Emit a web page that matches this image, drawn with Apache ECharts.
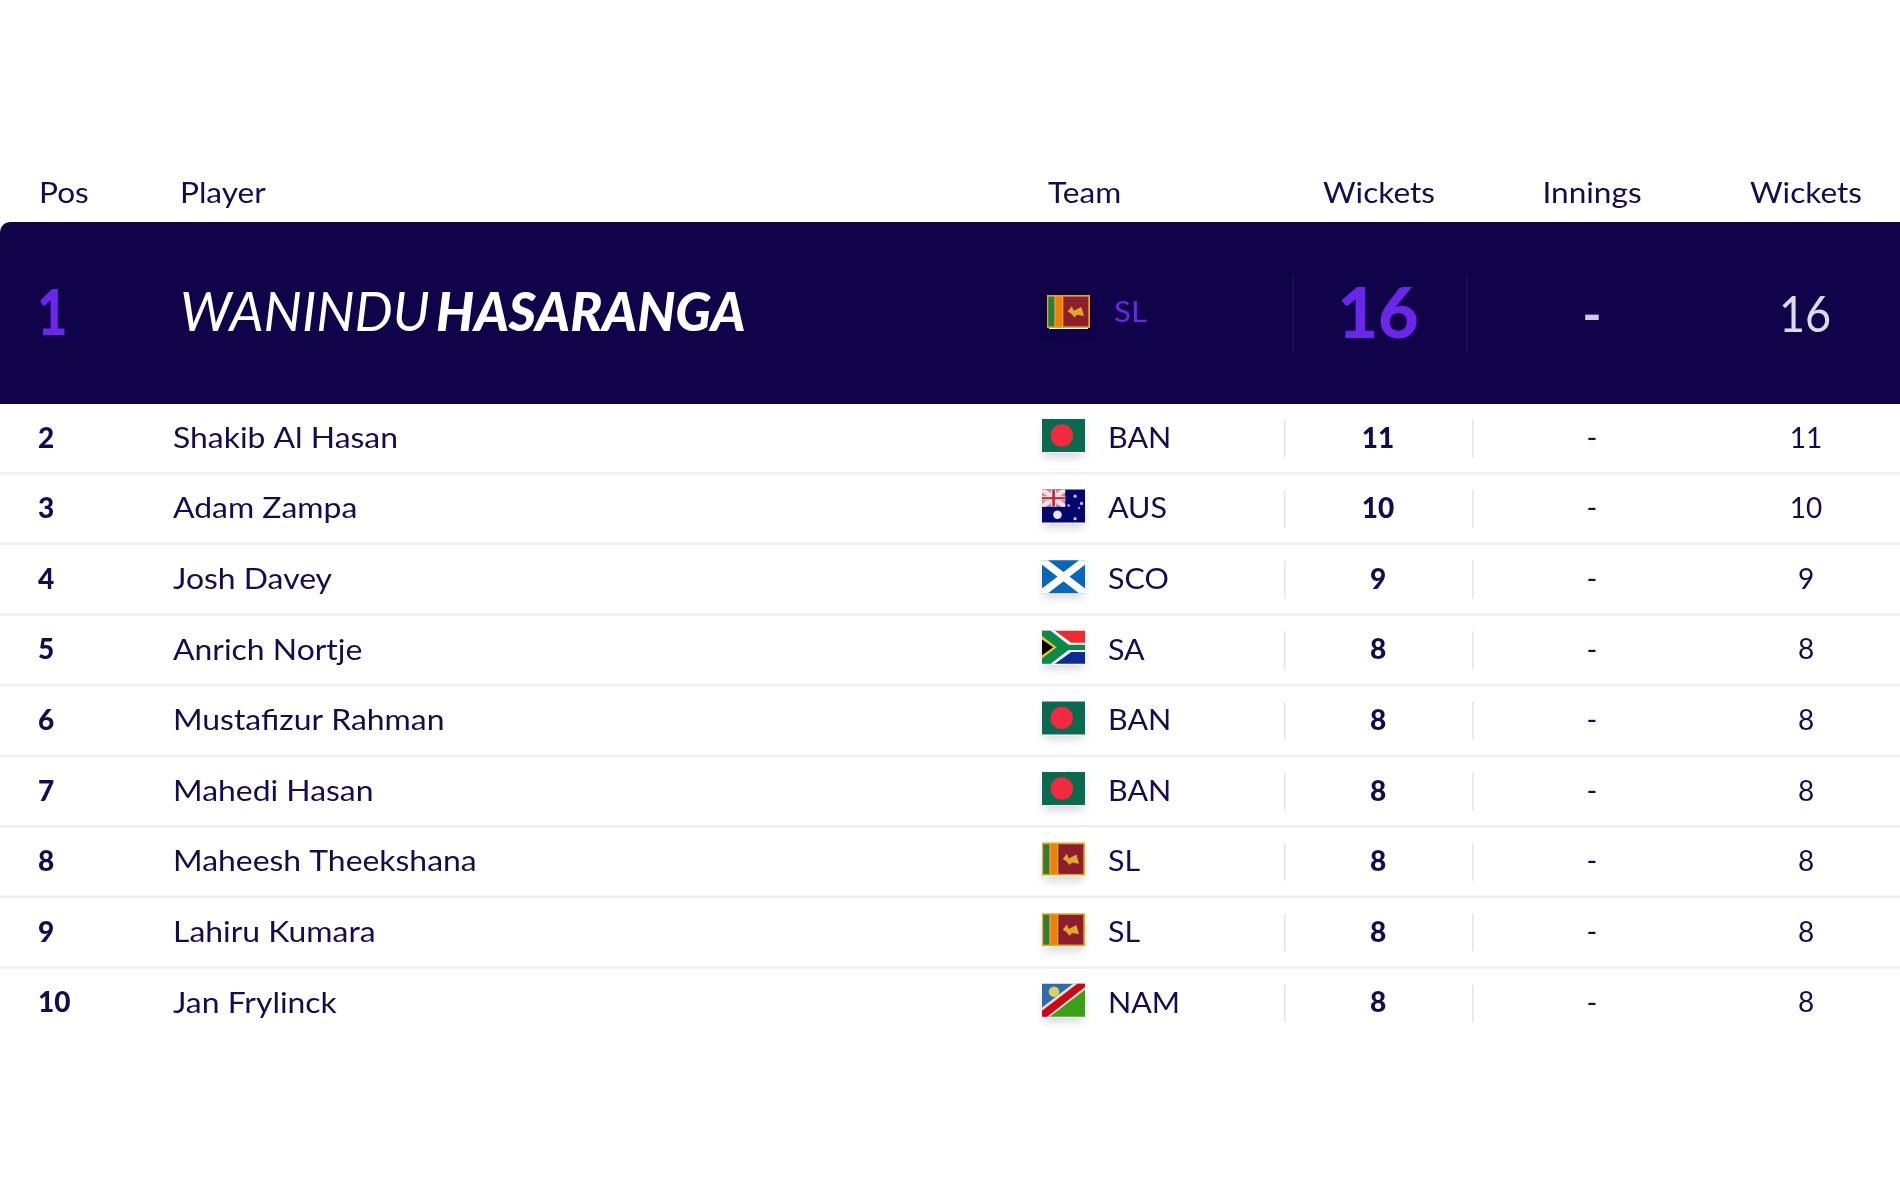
<!DOCTYPE html>
<html><head><meta charset="utf-8">
<script src="https://cdn.jsdelivr.net/npm/echarts@6/dist/echarts.min.js"></script>
<style>html,body{margin:0;padding:0;background:#fff}#c{width:1900px;height:1200px}</style>
</head><body><div id="c"></div>
<script>
const headers = ['Pos','Player','Team','Wickets','Innings','Wickets'];
const positions = [1,2,3,4,5,6,7,8,9,10];
const players = ['WANINDU HASARANGA','Shakib Al Hasan','Adam Zampa','Josh Davey','Anrich Nortje','Mustafizur Rahman','Mahedi Hasan','Maheesh Theekshana','Lahiru Kumara','Jan Frylinck'];
const teams = ['SL','BAN','AUS','SCO','SA','BAN','BAN','SL','SL','NAM'];
const wickets = [16,11,10,9,8,8,8,8,8,8];
const innings = ['-','-','-','-','-','-','-','-','-','-'];
const totals = [16,11,10,9,8,8,8,8,8,8];

const FONT = 'Lato';
const INK = '#170a4d', NAVY = '#11034a', PURPLE = '#6a27ea';
const headerY = 194, bannerTop = 222, bannerBottom = 404, leaderY = 314;
const firstRowY = 438.5, rowStep = 70.6;
const headerX = [39,180,1048,1379,1592,1806];
const headerAlign = ['left','left','left','center','center','center'];
const bodySize = 29;

function poly(x,y,w,h,pts,fill){return {type:'polygon',silent:true,shape:{points:pts.map(p=>[x+p[0]*w/100,y+p[1]*h/100])},style:{fill}};}
function box(x,y,w,h,a,b,c,d,fill){return {type:'rect',silent:true,shape:{x:x+a*w/100,y:y+b*h/100,width:(c-a)*w/100,height:(d-b)*h/100},style:{fill}};}
function dot(x,y,w,h,a,b,r,fill){return {type:'circle',silent:true,shape:{cx:x+a*w/100,cy:y+b*h/100,r:r},style:{fill}};}
function flag(team,x,y,w,h){
  const P=(pts,f)=>poly(x,y,w,h,pts,f), B=(a,b,c,d,f)=>box(x,y,w,h,a,b,c,d,f), D=(a,b,r,f)=>dot(x,y,w,h,a,b,r,f);
  const out=[{type:'rect',silent:true,shape:{x:x+2,y:y+3,width:w-4,height:h-2},style:{fill:'#fff',shadowBlur:9,shadowOffsetY:4,shadowColor:'rgba(20,10,60,0.18)'}}];
  if(team==='BAN'){out.push(B(0,0,100,100,'#0a6a50'),D(46,50,h*0.34,'#f12a3f'));}
  if(team==='AUS'){
    out.push(B(0,0,100,100,'#05056e'),B(0,0,54,52,'#c98b9c'));
    out.push(P([[0,0],[9,0],[54,44],[54,52],[45,52],[0,8]],'#efe3e8'),P([[54,0],[45,0],[0,44],[0,52],[9,52],[54,8]],'#efe3e8'));
    out.push(B(21,0,33,52,'#f0e4e8'),B(0,20,54,32,'#f0e4e8'),B(24,0,30,52,'#c8202f'),B(0,23,54,29,'#c8202f'));
    out.push(D(36,76,h*0.13,'#e8e8f2'),D(77,20,1.6,'#c8c8e2'),D(92,42,1.6,'#c8c8e2'),D(62,48,1.3,'#c8c8e2'),D(77,88,1.6,'#c8c8e2'),D(86,56,1,'#c8c8e2'));
  }
  if(team==='SCO'){
    out.push(B(0,0,100,100,'#0a66b8'));
    out.push(P([[0,0],[14,0],[100,86],[100,100],[86,100],[0,14]],'#fff'),P([[100,0],[86,0],[0,86],[0,100],[14,100],[100,14]],'#fff'));
  }
  if(team==='SA'){
    out.push(B(0,0,100,50,'#ef2b2d'),B(0,50,100,100,'#0a2a9a'));
    out.push(P([[0,0],[30,0],[68,36],[100,36],[100,64],[68,64],[30,100],[0,100]],'#fff'));
    out.push(P([[0,0],[20,0],[62,42],[100,42],[100,58],[62,58],[20,100],[0,100]],'#0a8a4a'));
    out.push(P([[0,16],[34,50],[0,84]],'#f7c21a'),P([[0,26],[26,50],[0,74]],'#000'));
  }
  if(team==='SL'){
    out.push(B(0,0,100,100,'#e0aa1c'),B(3,5,17,95,'#2f7a3c'),B(20,5,35,95,'#ef7d12'),B(38,5,96,95,'#8f1d30'));
    out.push(P([[48,50],[58,34],[62,48],[80,36],[86,64],[70,60],[64,68],[56,56]],'#dfa92a'));
  }
  if(team==='NAM'){
    out.push(P([[0,0],[100,0],[0,100]],'#2e6cae'),P([[100,0],[100,100],[0,100]],'#3ba016'));
    out.push(P([[72,0],[100,0],[100,18],[18,100],[0,100],[0,72]],'#e8dfe0'),P([[82,0],[100,0],[100,10],[12,100],[0,100],[0,82]],'#c90a14'));
    out.push(D(28,24,h*0.16,'#d8d25a'));
  }
  return out;
}
function txt(x,y,text,size,fill,align,weight,extra,stretch){
  return {type:'text',silent:true,x,y,scaleX:stretch||1,style:Object.assign({text:String(text),fontFamily:FONT,fontSize:size,fill,align:align||'left',verticalAlign:'middle',fontWeight:weight||400},extra||{})};
}
const chart = echarts.init(document.getElementById('c'),null,{renderer:'canvas',devicePixelRatio:1});
const rowIdx = positions.map((_,i)=>i);
chart.setOption({
  animation:false,
  backgroundColor:'#ffffff',
  grid:{left:0,top:0,width:1900,height:1200},
  xAxis:{type:'value',min:0,max:1900,show:false},
  yAxis:{type:'value',min:0,max:1200,inverse:true,show:false},
  tooltip:{show:false},
  series:[
   {type:'custom',coordinateSystem:'cartesian2d',silent:true,clip:false,data:headers.map((h,i)=>[headerX[i],headerY,i]),
    renderItem(p,api){const c=api.coord([api.value(0),api.value(1)]);const i=api.value(2);
      return txt(c[0],c[1],headers[i],bodySize,INK,headerAlign[i],400,null,1.09);}},
   {type:'custom',coordinateSystem:'cartesian2d',silent:true,clip:false,data:rowIdx.map(i=>[0,i===0?leaderY:firstRowY+(i-1)*rowStep,i]),
    renderItem(p,api){
      const i=api.value(2), c=api.coord([0,api.value(1)]), y=c[1], ch=[];
      if(i===0){
        ch.push({type:'rect',silent:true,shape:{x:0,y:bannerTop,width:1900,height:bannerBottom-bannerTop,r:[10,0,0,0]},style:{fill:NAVY}});
        [1292,1466].forEach(sx=>ch.push({type:'rect',silent:true,shape:{x:sx,y:276,width:2,height:76},style:{fill:'#190c52'}}));
        ch.push(txt(37,y+1,positions[i],62,PURPLE,'left',900,null,0.85));
        const parts=players[i].split(' ');
        ch.push(txt(180,y,parts[0],54,'#ffffff','left',400,{fontStyle:'italic'}));
        ch.push(txt(436,y,parts[1],53,'#ffffff','left',900,{fontStyle:'italic'}));
        ch.push(...flag(teams[i],1047,295,43,33));
        ch.push(txt(1114,y-1,teams[i],bodySize,PURPLE,'left',400,null,1.08));
        ch.push(txt(1378,y+1,wickets[i],70,PURPLE,'center',900));
        ch.push(txt(1592,y+2,innings[i],52,'#cfcce0','center',700));
        ch.push(txt(1805,y+2,totals[i],50,'#dcdae8','center',400,null,0.9));
      } else {
        if(i<positions.length-1) ch.push({type:'rect',silent:true,shape:{x:0,y:y+33.5,width:1900,height:2.5},style:{fill:'#f0f0f2'}});
        ch.push(txt(38,y,positions[i],28,INK,'left',900));
        ch.push(txt(173,y,players[i],bodySize,INK,'left',400,null,1.1));
        ch.push(...flag(teams[i],1042,y-19.5,43,33));
        ch.push(txt(1108,y,teams[i],bodySize,INK,'left',400,null,1.05));
        [1284,1472].forEach(sx=>ch.push({type:'rect',silent:true,shape:{x:sx,y:y-19,width:1.5,height:38},style:{fill:'#e4e4ea'}}));
        ch.push(txt(1378,y,wickets[i],28,INK,'center',900));
        ch.push(txt(1592,y,innings[i],bodySize,INK,'center',400));
        ch.push(txt(1806,y,totals[i],28,INK,'center',400));
      }
      return {type:'group',children:ch};
    }}
  ]
});
</script></body></html>
